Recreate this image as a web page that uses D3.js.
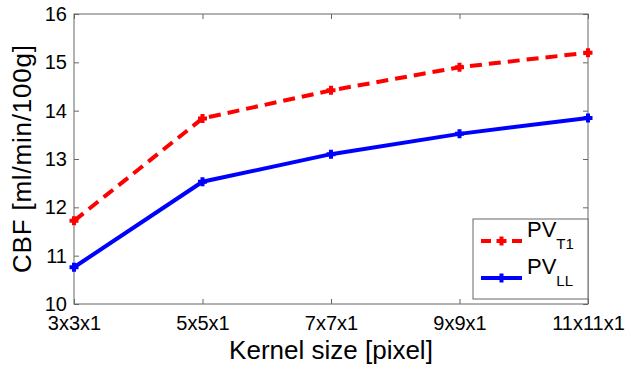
<!DOCTYPE html>
<html>
<head>
<meta charset="utf-8">
<script src="https://cdn.jsdelivr.net/npm/d3@7"></script>
<style>
  body { margin: 0; background: #fff; }
  svg { display: block; font-family: "Liberation Sans", Arial, sans-serif; }
</style>
</head>
<body>
<script>
// kernel sizes on the x axis
const kernels = ["3x3x1", "5x5x1", "7x7x1", "9x9x1", "11x11x1"];
// CBF values per series
const pvT1 = [11.72, 13.84, 14.42, 14.9, 15.2];
const pvLL = [10.76, 12.53, 13.1, 13.52, 13.85];
const yTicks = [10, 11, 12, 13, 14, 15, 16];

const width = 628, height = 366;
const margin = { top: 14, right: 40, bottom: 62, left: 74 };

const svg = d3.select("body").append("svg")
  .attr("width", width)
  .attr("height", height);

const x = d3.scalePoint()
  .domain(kernels)
  .range([margin.left, width - margin.right]);

const y = d3.scaleLinear()
  .domain([10, 16])
  .range([height - margin.bottom, margin.top]);

const axisColor = "#666";
const tickLen = 5;

// axes box
svg.append("rect")
  .attr("x", margin.left)
  .attr("y", margin.top)
  .attr("width", width - margin.left - margin.right)
  .attr("height", height - margin.top - margin.bottom)
  .attr("fill", "none")
  .attr("stroke", axisColor)
  .attr("stroke-width", 1);

// bottom axis: ticks inward, labels below
const xAxis = svg.append("g")
  .attr("transform", `translate(0,${y(10)})`)
  .call(d3.axisBottom(x).tickSize(-tickLen).tickPadding(12));
xAxis.select(".domain").remove();
xAxis.selectAll("line").attr("stroke", axisColor);
xAxis.selectAll("text")
  .attr("font-size", 20)
  .attr("font-family", "Liberation Sans, Arial, sans-serif")
  .attr("fill", "#000");

// top mirrored ticks
svg.append("g")
  .attr("transform", `translate(0,${y(16)})`)
  .call(d3.axisTop(x).tickSize(-tickLen).tickFormat(""))
  .call(g => g.select(".domain").remove())
  .selectAll("line").attr("stroke", axisColor);

// left axis
const yAxis = svg.append("g")
  .attr("transform", `translate(${margin.left},0)`)
  .call(d3.axisLeft(y).tickValues(yTicks).tickFormat(d3.format("d")).tickSize(-tickLen).tickPadding(7));
yAxis.select(".domain").remove();
yAxis.selectAll("line").attr("stroke", axisColor);
yAxis.selectAll("text")
  .attr("font-size", 20)
  .attr("font-family", "Liberation Sans, Arial, sans-serif")
  .attr("fill", "#000");

// right mirrored ticks
svg.append("g")
  .attr("transform", `translate(${width - margin.right},0)`)
  .call(d3.axisRight(y).tickValues(yTicks).tickSize(-tickLen).tickFormat(""))
  .call(g => g.select(".domain").remove())
  .selectAll("line").attr("stroke", axisColor);

// axis titles
svg.append("text")
  .attr("x", (margin.left + width - margin.right) / 2)
  .attr("y", 359)
  .attr("text-anchor", "middle")
  .attr("font-size", 26)
  .text("Kernel size [pixel]");

svg.append("text")
  .attr("transform", `translate(31,${(y(10) + y(16)) / 2}) rotate(-90)`)
  .attr("text-anchor", "middle")
  .attr("font-size", 26)
  .attr("textLength", 228)
  .text("CBF [ml/min/100g]");

const line = d3.line()
  .x((d, i) => x(kernels[i]))
  .y(d => y(d));

const plus = (cx, cy, s) => `M${cx - s},${cy}H${cx + s}M${cx},${cy - s}V${cy + s}`;

const series = [
  { values: pvT1, color: "#ff0000", dash: "12,7", sub: "T1" },
  { values: pvLL, color: "#0000ff", dash: null, sub: "LL" }
];

series.forEach(s => {
  svg.append("path")
    .datum(s.values)
    .attr("fill", "none")
    .attr("stroke", s.color)
    .attr("stroke-width", 4)
    .attr("stroke-dasharray", s.dash)
    .attr("d", line);

  svg.append("g")
    .selectAll("path")
    .data(s.values)
    .join("path")
    .attr("d", (d, i) => plus(x(kernels[i]), y(d), 4.5))
    .attr("stroke", s.color)
    .attr("stroke-width", 4)
    .attr("fill", "none");
});

// legend
const legend = svg.append("g");
legend.append("rect")
  .attr("x", 473)
  .attr("y", 219)
  .attr("width", 115)
  .attr("height", 80)
  .attr("fill", "#fff")
  .attr("stroke", axisColor)
  .attr("stroke-width", 1);

series.forEach((s, i) => {
  const ly = 241 + i * 37;
  legend.append("line")
    .attr("x1", 481).attr("x2", 522)
    .attr("y1", ly).attr("y2", ly)
    .attr("stroke", s.color)
    .attr("stroke-width", 4)
    .attr("stroke-dasharray", s.dash ? "10,5.5" : null);
  legend.append("path")
    .attr("d", plus(501.5, ly, 4.5))
    .attr("stroke", s.color)
    .attr("stroke-width", 4);
  const t = legend.append("text")
    .attr("x", 527)
    .attr("y", ly - 4)
    .attr("font-size", 22);
  t.append("tspan").text("PV");
  t.append("tspan")
    .attr("dy", 12)
    .attr("font-size", 15)
    .text(s.sub);
});
</script>
</body>
</html>
